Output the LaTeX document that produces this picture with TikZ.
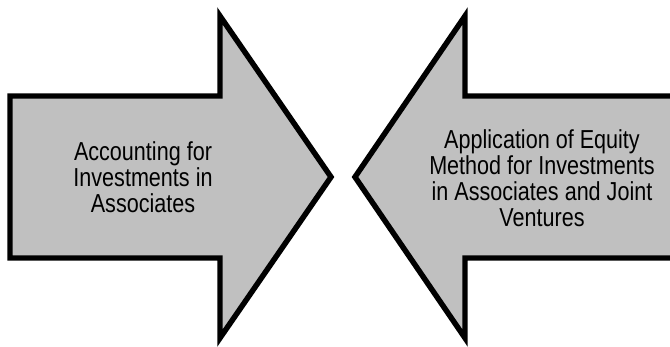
\documentclass[tikz,border=0pt]{standalone}
\usepackage{fontspec}
\setmainfont{Liberation Sans}[FakeStretch=0.83]
\usepackage{tikz}
\definecolor{arrowgray}{HTML}{C0C0C0}

\begin{document}
\begin{tikzpicture}[x=0.75pt,y=-0.75pt,
  bigarrow/.style={draw=black,fill=arrowgray,line width=4.1pt,miter limit=20},
  label/.style={align=center,inner sep=0pt,font=\fontsize{19.5}{19.5}\selectfont}]
  \useasboundingbox (0,0) rectangle (670,346);
  \clip (0,0) rectangle (670,346);
  % left arrow
  \draw[bigarrow] (10,96) -- (220,96) -- (220,16) -- (331,177) -- (220,338)
    -- (220,258) -- (10,258) -- cycle;
  % right arrow, its body runs off the right edge
  \draw[bigarrow] (690,96) -- (465,96) -- (465,16) -- (355,177) -- (465,338)
    -- (465,258) -- (690,258) -- cycle;
  \node[label] (acc) at (143,177) {Accounting for\\Investments in\\Associates};
  \node[label] (eqm) at (542,178) {Application of Equity\\Method for Investments\\in Associates and Joint\\Ventures};
\end{tikzpicture}
\end{document}
